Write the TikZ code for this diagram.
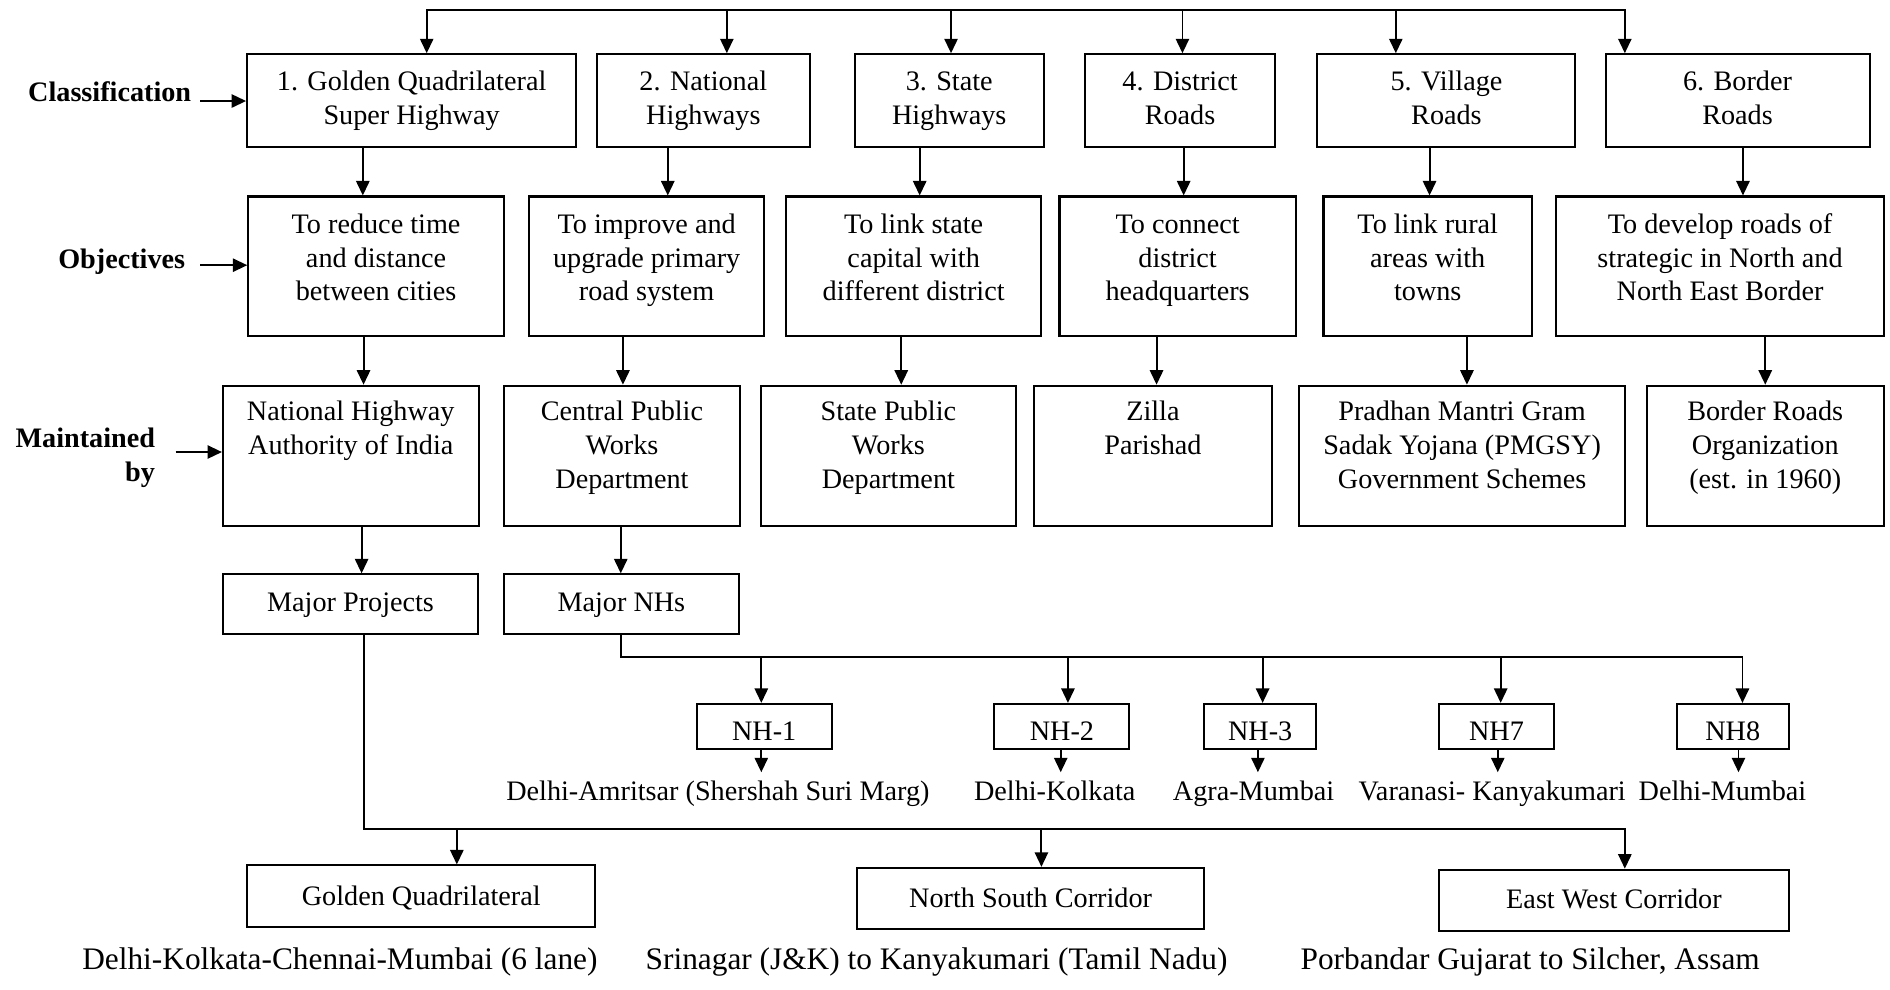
\documentclass[tikz,border=0pt]{standalone}
\usepackage{fontspec}
\setmainfont{Liberation Serif}
\usetikzlibrary{arrows.meta,fit}
\newcommand\ml[1]{\begin{tabular}[t]{@{}c@{}}#1\end{tabular}}
\newcommand\mr[1]{\begin{tabular}[t]{@{}r@{}}#1\end{tabular}}
\tikzset{
 bx/.style={draw, line width=0.85pt, inner sep=0pt},
 txt/.style={inner sep=0pt, anchor=base, font=\fontsize{11.7}{14}\selectfont},
 lbl/.style={inner sep=0pt, anchor=base, font=\fontsize{13}{15}\selectfont},
 side/.style={inner sep=0pt, anchor=base east, font=\fontsize{11.7}{14.3}\selectfont\bfseries},
 ln/.style={line width=0.8pt, line cap=rect},
 arr/.style={line width=0.8pt, -{Triangle[length=6pt,width=5.5pt]}},
}
\begin{document}
\begin{tikzpicture}[x=0.5pt,y=-0.5pt]
\useasboundingbox (0,0) rectangle (1568,821);
% ---------- classification ----------
\node[bx, fit={(205,45) (478,122)}] (c1) {};
\node[bx, fit={(495,45) (672,122)}] (c2) {};
\node[bx, fit={(709,45) (866,122)}] (c3) {};
\node[bx, fit={(900,45) (1058,122)}] (c4) {};
\node[bx, fit={(1093,45) (1307,122)}] (c5) {};
\node[bx, fit={(1332,45) (1551,122)}] (c6) {};
\node[txt] (c1t) at (341.5,75.2) {\ml{1. Golden Quadrilateral\\Super Highway}};
\node[txt] (c2t) at (583.5,75.2) {\ml{2. National\\Highways}};
\node[txt] (c3t) at (787.5,75.2) {\ml{3. State\\Highways}};
\node[txt] (c4t) at (979,75.2) {\ml{4. District\\Roads}};
\node[txt] (c5t) at (1200,75.2) {\ml{5. Village\\Roads}};
\node[txt] (c6t) at (1441.5,75.2) {\ml{6. Border\\Roads}};
% ---------- objectives ----------
\node[bx, fit={(206,163) (418,279)}] (o1) {};
\node[bx, fit={(439,163) (634,279)}] (o2) {};
\node[bx, fit={(652,163) (864,279)}] (o3) {};
\node[bx, fit={(879,163) (1075,279)}] (o4) {};
\node[bx, fit={(1098,163) (1271,279)}] (o5) {};
\node[bx, fit={(1291,163) (1563,279)}] (o6) {};
\node[txt] (o1t) at (312,193.6) {\ml{To reduce time\\and distance\\between cities}};
\node[txt] (o2t) at (536.5,193.6) {\ml{To improve and\\upgrade primary\\road system}};
\node[txt] (o3t) at (758,193.6) {\ml{To link state\\capital with\\different district}};
\node[txt] (o4t) at (977,193.6) {\ml{To connect\\district\\headquarters}};
\node[txt] (o5t) at (1184.5,193.6) {\ml{To link rural\\areas with\\towns}};
\node[txt] (o6t) at (1427,193.6) {\ml{To develop roads of\\strategic in North and\\North East Border}};
% ---------- maintained ----------
\node[bx, fit={(185,320) (397,436)}] (m1) {};
\node[bx, fit={(418,320) (614,436)}] (m2) {};
\node[bx, fit={(631,320) (843,436)}] (m3) {};
\node[bx, fit={(858,320) (1055,436)}] (m4) {};
\node[bx, fit={(1078,320) (1348,436)}] (m5) {};
\node[bx, fit={(1366,320) (1563,436)}] (m6) {};
\node[txt] (m1t) at (291,349) {\ml{National Highway\\Authority of India}};
\node[txt] (m2t) at (516,349) {\ml{Central Public\\Works\\Department}};
\node[txt] (m3t) at (737,349) {\ml{State Public\\Works\\Department}};
\node[txt] (m4t) at (956.5,349) {\ml{Zilla\\Parishad}};
\node[txt] (m5t) at (1213,349) {\ml{Pradhan Mantri Gram\\Sadak Yojana (PMGSY)\\Government Schemes}};
\node[txt] (m6t) at (1464.5,349) {\ml{Border Roads\\Organization\\(est. in 1960)}};
% ---------- major ----------
\node[bx, fit={(185,476.5) (396.5,525.7)}] (mp) {};
\node[bx, fit={(418,476.5) (613,525.7)}] (mn) {};
\node[txt] (mpt) at (290.8,507.4) {Major Projects};
\node[txt] (mnt) at (515.5,507.4) {Major NHs};
% ---------- NH boxes ----------
\node[bx, fit={(578,584) (690,621)}] (n1) {};
\node[bx, fit={(825,584) (937,621)}] (n2) {};
\node[bx, fit={(999,584) (1092,621)}] (n3) {};
\node[bx, fit={(1194,584) (1289,621)}] (n4) {};
\node[bx, fit={(1391,584) (1484,621)}] (n5) {};
\node[txt] (n1t) at (634,614) {NH-1};
\node[txt] (n2t) at (881,614) {NH-2};
\node[txt] (n3t) at (1045.5,614) {NH-3};
\node[txt] (n4t) at (1241.5,614) {NH7};
\node[txt] (n5t) at (1437.5,614) {NH8};
\node[txt] (l1) at (595.6,663.7) {Delhi-Amritsar (Shershah Suri Marg)};
\node[txt] (l2) at (875,663.7) {Delhi-Kolkata};
\node[txt] (l3) at (1040,663.7) {Agra-Mumbai};
\node[txt] (l4) at (1238,663.7) {Varanasi- Kanyakumari};
\node[txt] (l5) at (1429,663.7) {Delhi-Mumbai};
% ---------- corridors ----------
\node[bx, fit={(205,718) (494,769)}] (b1) {};
\node[bx, fit={(711,720) (999,771)}] (b2) {};
\node[bx, fit={(1194,721.5) (1484,772)}] (b3) {};
\node[txt] (b1t) at (349.5,751) {Golden Quadrilateral};
\node[txt] (b2t) at (855,753) {North South Corridor};
\node[txt] (b3t) at (1339,754) {East West Corridor};
\node[lbl] (d1) at (282,804.7) {Delhi-Kolkata-Chennai-Mumbai (6 lane)};
\node[lbl] (d2) at (777,804.7) {Srinagar (J\&K) to Kanyakumari (Tamil Nadu)};
\node[lbl] (d3) at (1269.5,804.7) {Porbandar Gujarat to Silcher, Assam};
% ---------- side labels ----------
\node[side] (cls) at (159,84.4) {Classification};
\node[side] (obj) at (154,222.6) {Objectives};
\node[side] (mnb) at (129,371) {\mr{Maintained\\by}};
\draw[arr] ([xshift=3.5pt,yshift=0.3pt]cls.base east) -- ([yshift=0.3pt]cls.base east -| c1.west);
\draw[arr] ([xshift=6pt,yshift=1.3pt]obj.base east) -- ([yshift=1.3pt]obj.base east -| o1.west);
\draw[arr] ([xshift=8.3pt,yshift=-2pt]mnb.base east) -- ([yshift=-2pt]mnb.base east -| m1.west);
% ---------- top bus ----------
\coordinate (t1) at (354,8);
\coordinate (t2) at (603,8);
\coordinate (t3) at (789,8);
\coordinate (t4) at (981,8);
\coordinate (t5) at (1158,8);
\coordinate (t6) at (1348,8);
\draw[ln] (t1) -- (t6);
\foreach \i in {1,...,6} {\draw[arr] (t\i) -- (t\i |- c\i.north);}
% ---------- classification -> objectives ----------
\coordinate (x1) at (301,0);
\coordinate (x2) at (554,0);
\coordinate (x3) at (763,0);
\coordinate (x4) at (982,0);
\coordinate (x5) at (1186,0);
\coordinate (x6) at (1446,0);
\foreach \i in {1,...,6} {\draw[arr] (c\i.south -| x\i) -- (o\i.north -| x\i);}
% ---------- objectives -> maintained ----------
\coordinate (y1) at (301.6,0);
\coordinate (y2) at (516.8,0);
\coordinate (y3) at (747.7,0);
\coordinate (y4) at (959.5,0);
\coordinate (y5) at (1217,0);
\coordinate (y6) at (1464.5,0);
\foreach \i in {1,...,6} {\draw[arr] (o\i.south -| y\i) -- (m\i.north -| y\i);}
% ---------- maintained -> major ----------
\coordinate (z1) at (300,0);
\coordinate (z2) at (515,0);
\draw[arr] (m1.south -| z1) -- (mp.north -| z1);
\draw[arr] (m2.south -| z2) -- (mn.north -| z2);
% ---------- major NHs bus ----------
\coordinate (nb1) at (631.6,545);
\coordinate (nb2) at (886,545);
\coordinate (nb3) at (1047.5,545);
\coordinate (nb4) at (1245,545);
\coordinate (nb5) at (1445.6,545);
\draw[ln] (mn.south -| z2) |- (nb5);
\foreach \i in {1,...,5} {\draw[arr] (nb\i) -- (nb\i |- n\i.north);}
\coordinate (s1) at (631.6,0);
\coordinate (s2) at (880,0);
\coordinate (s3) at (1043.6,0);
\coordinate (s4) at (1242.6,0);
\coordinate (s5) at (1442.3,0);
\foreach \i in {1,...,5} {\draw[arr, shorten >=3.2pt] (n\i.south -| s\i) -- (l\i.north -| s\i);}
% ---------- major projects bus ----------
\coordinate (pb0) at (301.6,0);
\coordinate (pb1) at (379,687.7);
\coordinate (pb2) at (864,687.7);
\coordinate (pb3) at (1348,687.7);
\draw[ln] (mp.south -| pb0) |- (pb3);
\foreach \i in {1,2,3} {\draw[arr] (pb\i) -- (pb\i |- b\i.north);}
\end{tikzpicture}
\end{document}
